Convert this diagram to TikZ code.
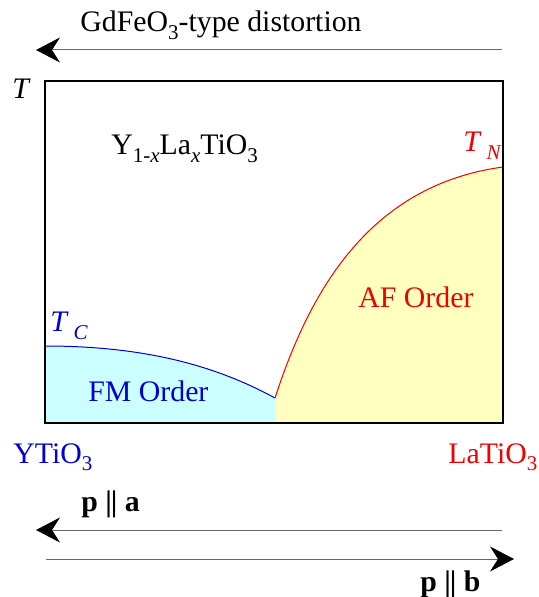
\documentclass[tikz,border=0pt]{standalone}
\usepackage{fontspec}
\setmainfont{Liberation Serif}
\usetikzlibrary{arrows.meta}
\definecolor{FMfill}{RGB}{204,255,255}
\definecolor{AFfill}{RGB}{255,255,192}
\definecolor{FMblue}{RGB}{0,0,210}
\definecolor{AFred}{RGB}{240,0,0}
\newcommand{\dn}[1]{\raisebox{-0.55ex}{\fontsize{10.5}{12}\selectfont #1}}
\newcommand{\parbar}{\textbf{|\kern-0.6pt|}}
\begin{document}
\begin{tikzpicture}[
    x=0.5pt, y=-0.5pt,
    lbl/.style={font=\fontsize{14.9}{17}\selectfont, inner sep=0pt, anchor=base west},
    fmlbl/.style={lbl, text=FMblue},
    aflbl/.style={lbl, text=AFred},
    dirarr/.style={-{Stealth[length=12pt, width=12.5pt, inset=4pt, color=black]},
                   draw=black!60, line width=0.5pt},
    frame/.style={draw=black, line width=0.6pt}
  ]
    \useasboundingbox (0,0) rectangle (538,597);

    % phase regions
    \fill[FMfill] (45,423) -- (45,346) .. controls (150,346) and (220,368) .. (275,398)
                  -- (275,423) -- cycle;
    \fill[AFfill] (275,423) -- (275,398) .. controls (310,290) and (370,185) .. (503,167)
                  -- (503,423) -- cycle;
    \draw[FMblue, line width=0.5pt] (45,346) .. controls (150,346) and (220,368) .. (275,398);
    \draw[AFred, line width=0.5pt] (275,398) .. controls (310,290) and (370,185) .. (503,167);
    \draw[frame] (45,81) rectangle (503,423);

    % labels
    \node[lbl] (dist) at (80,32) {GdFeO\dn{3}-type distortion};
    \node[lbl] (tax) at (12,99) {\textit{T}};
    \node[lbl] (comp) at (111,155) {Y\dn{1-\textit{x}}La\dn{\textit{x}}TiO\dn{3}};
    \node[fmlbl] (tc) at (50,332) {\textit{T}\,\dn{\textit{C}}};
    \node[fmlbl] (fm) at (88,401) {FM Order};
    \node[fmlbl] (yto) at (13,463) {YTiO\dn{3}};
    \node[aflbl] (tn) at (463,152) {\textit{T}\,\dn{\textit{N}}};
    \node[aflbl] (af) at (358,308) {AF Order};
    \node[aflbl] (lto) at (448,463) {LaTiO\dn{3}};
    \node[lbl] (pa) at (81,511) {\textbf{p} \parbar{} \textbf{a}};
    \node[lbl] (pb) at (420,591) {\textbf{p} \parbar{} \textbf{b}};

    % direction arrows
    \coordinate (d0) at (502,50);  \coordinate (d1) at (36,50);
    \coordinate (a0) at (502,530); \coordinate (a1) at (36,530);
    \coordinate (b0) at (46,559);  \coordinate (b1) at (514,559);
    \draw[dirarr] (d0) -- (d1);
    \draw[dirarr] (a0) -- (a1);
    \draw[dirarr] (b0) -- (b1);
  \end{tikzpicture}
\end{document}
